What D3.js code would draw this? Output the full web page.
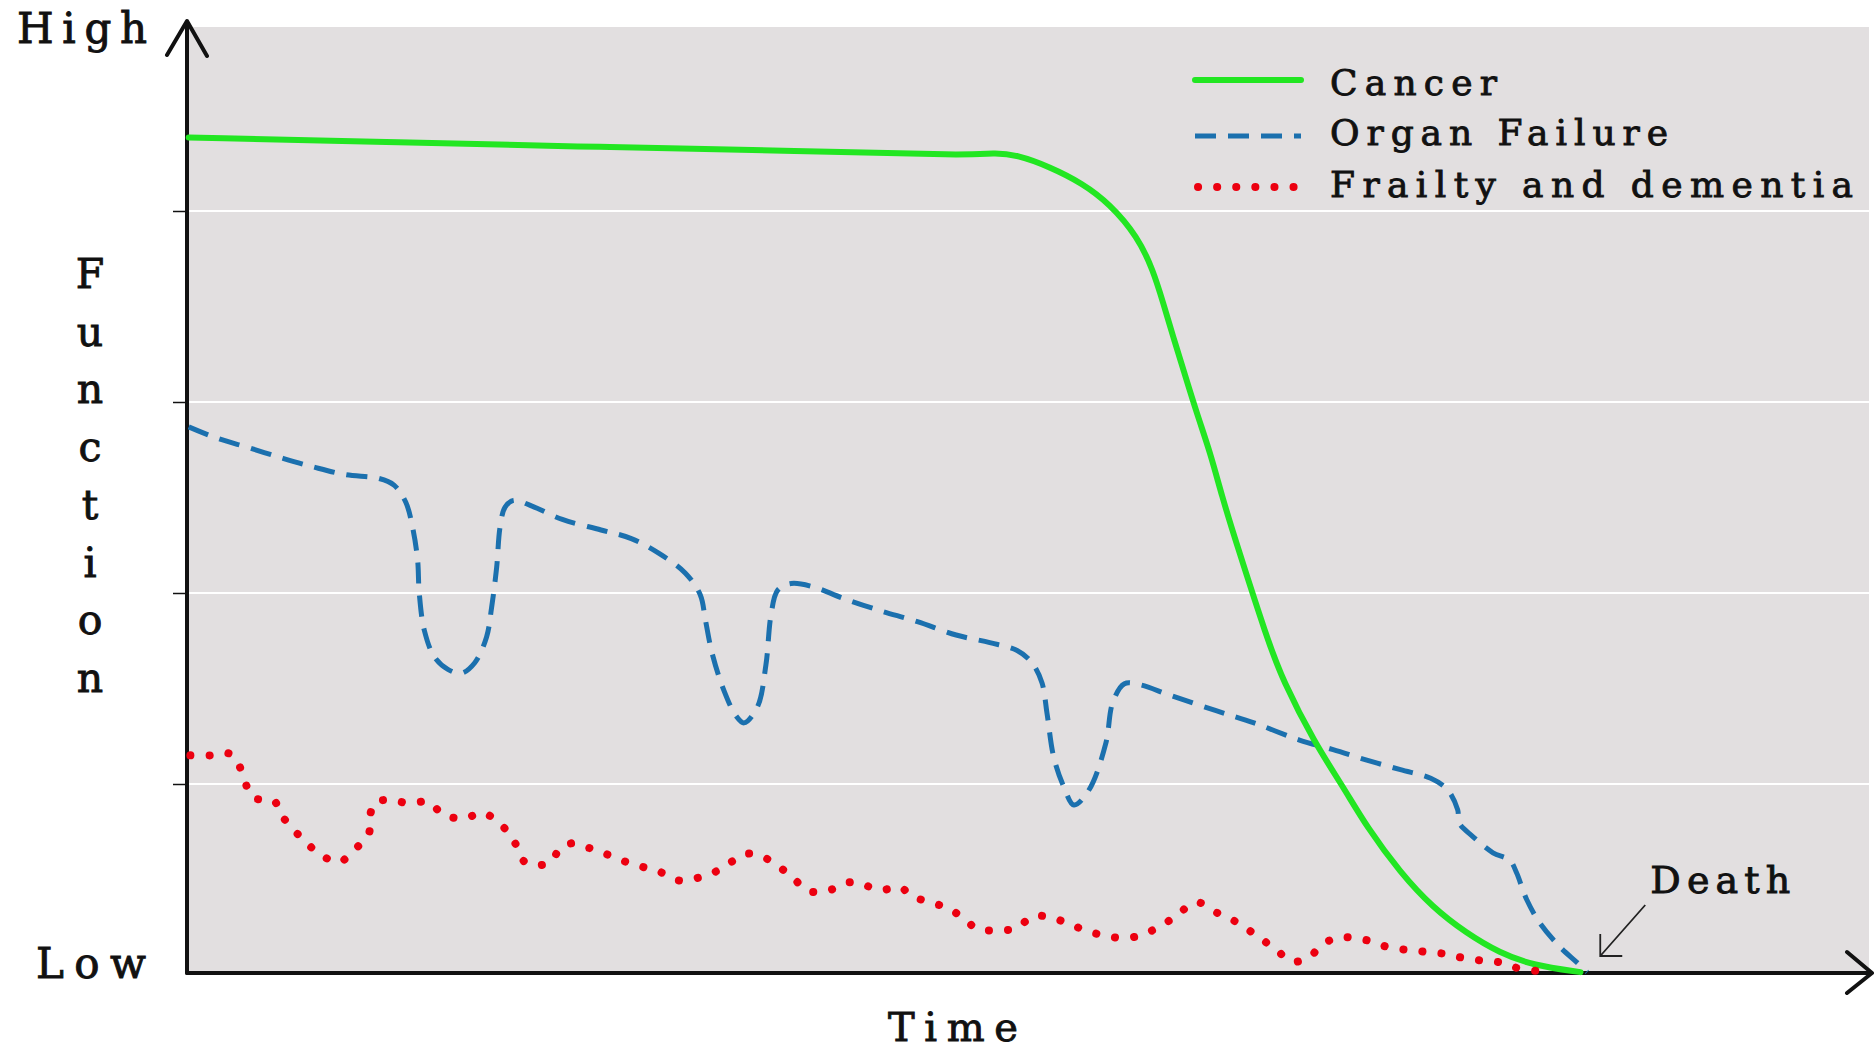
<!DOCTYPE html>
<html>
<head>
<meta charset="utf-8">
<script src="https://cdn.jsdelivr.net/npm/d3@7"></script>
<style>
  body { margin: 0; background: #fff; }
  text { font-family: 'DejaVu Serif', serif; fill: #111; stroke: #111; stroke-width: 0.9; }
</style>
</head>
<body>
<svg id="chart" width="1875" height="1051"></svg>
<script>
// trajectories: [time (0-100), function (0-100)]
const seriesNames = ['Cancer', 'Organ Failure', 'Frailty and dementia'];

const cancer = [
  [0.1, 87.7], [12.7, 87.2], [24.5, 86.7], [36.4, 86.3], [46.5, 85.8], [47.9, 86.1],
  [49.3, 85.9], [51.3, 84.6], [53.2, 82.9], [54.8, 80.8], [56.5, 77.3], [57.4, 73.8],
  [58.0, 70.4], [58.6, 66.8], [59.2, 63.4], [60.0, 58.8], [60.8, 54.7], [61.5, 50.1],
  [62.3, 45.5], [64.2, 35.1], [65.1, 30.9], [67.0, 24.3], [68.7, 19.7], [70.1, 15.5],
  [72.1, 10.7], [74.0, 7.1], [76.0, 4.4], [78.0, 2.3], [80.0, 1.0], [82.8, 0.3]
];

const organFailure = [
  [0.1, 57.4], [1.8, 56.2], [3.7, 55.2], [5.7, 54.1], [7.5, 53.2], [9.4, 52.4],
  [11.4, 52.0], [12.3, 51.3], [13.0, 49.5], [13.4, 46.9], [13.7, 43.5], [13.8, 40.0],
  [14.1, 36.1], [14.7, 33.3], [15.5, 32.0], [16.3, 31.6], [17.1, 32.7], [17.8, 35.4],
  [18.1, 38.5], [18.4, 42.7], [18.6, 46.9], [18.9, 49.0], [19.4, 49.7], [20.5, 49.1],
  [22.3, 47.7], [24.6, 46.6], [26.4, 45.7], [28.0, 44.2], [29.6, 42.1], [30.5, 39.8],
  [30.8, 37.2], [31.2, 33.7], [31.9, 29.8], [32.6, 27.2], [33.1, 26.4], [33.9, 28.1],
  [34.4, 32.5], [34.7, 37.7], [35.1, 40.3], [35.9, 41.0], [37.3, 40.6], [38.9, 39.5],
  [41.1, 38.2], [43.4, 37.0], [45.7, 35.6], [47.7, 34.8], [49.3, 34.0], [50.2, 32.7],
  [50.8, 30.6], [51.1, 27.4], [51.5, 22.8], [52.1, 19.7], [52.7, 17.8], [53.6, 19.4],
  [54.6, 24.3], [55.0, 28.5], [55.7, 30.5], [56.6, 30.4], [58.4, 29.3], [61.1, 27.7],
  [63.4, 26.4], [66.1, 24.6], [68.1, 23.6], [70.1, 22.5], [72.1, 21.5], [73.9, 20.6],
  [74.9, 19.4], [75.5, 17.3], [75.6, 15.9], [76.4, 14.5], [77.6, 12.8], [78.6, 12.0],
  [79.0, 10.7], [79.6, 7.9], [80.4, 5.4], [81.6, 2.9], [82.6, 1.3], [83.2, 0.3]
];

const frailty = [
  [0.2, 23.0], [1.4, 23.0], [2.5, 23.2], [3.0, 22.3], [3.4, 20.5], [3.9, 18.6],
  [5.2, 18.2], [5.5, 17.0], [6.2, 15.5], [7.0, 14.0], [7.8, 12.8], [9.0, 11.8],
  [10.0, 13.2], [10.8, 14.8], [10.9, 16.9], [11.2, 18.1], [12.2, 18.3], [13.1, 18.0],
  [14.4, 18.1], [15.2, 16.8], [16.5, 16.4], [17.5, 17.0], [18.3, 16.3], [19.0, 15.1],
  [19.6, 13.5], [20.1, 11.8], [21.5, 11.7], [22.2, 13.3], [22.9, 13.8], [23.9, 13.3],
  [25.0, 12.6], [26.0, 11.9], [27.1, 11.3], [28.1, 10.8], [29.2, 9.9], [30.4, 10.2],
  [31.5, 10.9], [32.4, 11.9], [33.3, 12.7], [34.3, 12.3], [35.2, 11.3], [36.0, 10.2],
  [36.9, 8.8], [38.2, 8.9], [39.3, 9.7], [40.1, 9.5], [41.2, 8.9], [42.4, 9.2],
  [43.0, 8.3], [44.2, 7.6], [45.2, 7.0], [46.1, 6.0], [47.0, 4.8], [48.3, 4.7],
  [49.3, 4.9], [50.2, 6.1], [51.2, 6.1], [52.2, 5.5], [53.2, 4.8], [54.3, 4.2],
  [55.4, 3.9], [56.6, 4.1], [57.7, 5.0], [58.7, 6.1], [59.5, 7.2], [60.1, 7.6],
  [61.1, 6.6], [62.1, 5.8], [63.0, 4.8], [63.9, 3.7], [64.8, 2.5], [65.7, 1.4],
  [66.7, 1.9], [67.4, 3.1], [68.3, 3.9], [69.3, 3.9], [70.4, 3.5], [71.4, 2.9],
  [72.6, 2.6], [73.7, 2.4], [74.8, 2.2], [75.8, 1.8], [77.0, 1.5], [78.1, 1.3],
  [79.1, 0.7], [80.3, 0.4]
];

const gridValues = [20, 40, 60, 80];
const yAxisTitle = 'Function';
const xAxisTitle = 'Time';
const yEndLabels = ['Low', 'High'];
const deathLabel = 'Death';
const deathTime = 83.2;

const svg = d3.select('#chart');

const x = d3.scaleLinear().domain([0, 100]).range([187, 1870]);
const y = d3.scaleLinear().domain([0, 100]).range([975, 20]);

const x0 = x(0);
const axisY = y(0) - 2;

// plot background + grid
svg.append('rect')
  .attr('x', x0)
  .attr('y', 27)
  .attr('width', 1869 - x0)
  .attr('height', axisY - 27)
  .attr('fill', '#e2dfe0');

svg.selectAll('.grid')
  .data(gridValues)
  .enter()
  .append('line')
  .attr('class', 'grid')
  .attr('x1', x0)
  .attr('x2', 1869)
  .attr('y1', d => y(d))
  .attr('y2', d => y(d))
  .attr('stroke', '#fff')
  .attr('stroke-width', 2);

const yAxis = d3.axisLeft(y).tickValues(gridValues).tickSize(14).tickFormat('');
svg.append('g')
  .attr('transform', `translate(${x0},0)`)
  .call(yAxis)
  .call(g => g.select('.domain').remove())
  .call(g => g.selectAll('.tick line').attr('stroke', '#111').attr('stroke-width', 1.5));

// arrows of the axes
const axes = svg.append('g')
  .attr('fill', 'none')
  .attr('stroke', '#111')
  .attr('stroke-linecap', 'round')
  .attr('stroke-linejoin', 'round');

axes.append('path')
  .attr('d', `M${x0},${axisY} L${x0},22 M${x0 - 20},55 L${x0},21 L${x0 + 20},56`)
  .attr('stroke-width', 4);

axes.append('path')
  .attr('d', `M${x0},${axisY} L1871,${axisY} M1847,${axisY - 21} L1872,${axisY} L1847,${axisY + 20}`)
  .attr('stroke-width', 4);

// trajectories
const smoothLine = d3.line()
  .x(d => x(d[0]))
  .y(d => y(d[1]))
  .curve(d3.curveBasis);

const wigglyLine = d3.line()
  .x(d => x(d[0]))
  .y(d => y(d[1]))
  .curve(d3.curveCatmullRom.alpha(0.5));

const styles = [
  { color: '#22e622', width: 6, dash: null, cap: 'round' },
  { color: '#1b70ae', width: 5, dash: '21 12', cap: 'butt' },
  { color: '#ec0010', width: 8, dash: '0.1 19', cap: 'round' }
];
const seriesData = [cancer, organFailure, frailty];
const seriesLine = [smoothLine, wigglyLine, wigglyLine];
const drawOrder = [1, 0, 2];

drawOrder.forEach(i => {
  svg.append('path')
    .datum(seriesData[i])
    .attr('d', seriesLine[i])
    .attr('fill', 'none')
    .attr('stroke', styles[i].color)
    .attr('stroke-width', styles[i].width)
    .attr('stroke-dasharray', styles[i].dash)
    .attr('stroke-linecap', styles[i].cap);
});

// legend
const legendWidths = [167, 338, 523];
const legendLineY = [80, 136, 187];
const legendTextY = [95, 145, 197];
const legend = svg.append('g');
seriesNames.forEach((name, i) => {
  legend.append('line')
    .attr('x1', i === 2 ? 1198 : 1195)
    .attr('x2', i === 2 ? 1294 : 1301)
    .attr('y1', legendLineY[i])
    .attr('y2', legendLineY[i])
    .attr('stroke', styles[i].color)
    .attr('stroke-width', styles[i].width)
    .attr('stroke-dasharray', styles[i].dash)
    .attr('stroke-linecap', styles[i].cap);
  legend.append('text')
    .attr('x', 1330)
    .attr('y', legendTextY[i])
    .attr('font-size', 36)
    .attr('textLength', legendWidths[i])
    .attr('lengthAdjust', 'spacing')
    .text(name);
});

// axis labels
svg.append('text')
  .attr('x', 17).attr('y', 43)
  .attr('font-size', 42)
  .attr('textLength', 130).attr('lengthAdjust', 'spacing')
  .text(yEndLabels[1]);

svg.append('text')
  .attr('x', 36).attr('y', 978)
  .attr('font-size', 42)
  .attr('textLength', 110).attr('lengthAdjust', 'spacing')
  .text(yEndLabels[0]);

svg.append('text')
  .attr('x', 888).attr('y', 1041)
  .attr('font-size', 40)
  .attr('textLength', 130).attr('lengthAdjust', 'spacing')
  .text(xAxisTitle);

svg.selectAll('.ylab')
  .data(yAxisTitle.split(''))
  .enter()
  .append('text')
  .attr('class', 'ylab')
  .attr('x', 90)
  .attr('y', (d, i) => 288 + i * 57.7)
  .attr('font-size', 41)
  .attr('text-anchor', 'middle')
  .text(d => d);

// death annotation
const dx = x(deathTime);
svg.append('text')
  .attr('x', dx + 63).attr('y', 893)
  .attr('font-size', 38)
  .attr('textLength', 140).attr('lengthAdjust', 'spacing')
  .text(deathLabel);

svg.append('path')
  .attr('d', `M${dx + 58},905 L${dx + 13},956 M${dx + 13},934 L${dx + 13},956 L${dx + 35},956`)
  .attr('fill', 'none')
  .attr('stroke', '#222')
  .attr('stroke-width', 1.8);
</script>
</body>
</html>
